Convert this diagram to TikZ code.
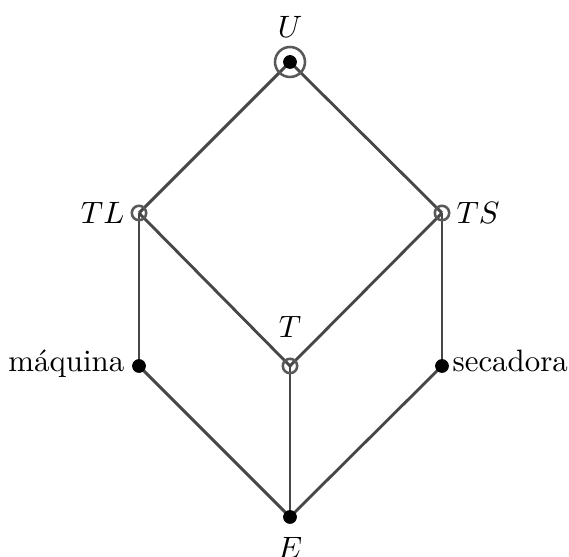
\documentclass[tikz,border=0pt]{standalone}
\begin{document}
\begin{tikzpicture}[x=0.3333pt,y=-0.3333pt,
  edge/.style={draw=black!72,line width=0.95pt},
  opendot/.style={draw=black!65,line width=0.85pt,circle,inner sep=0pt,minimum size=4.8pt},
  fulldot/.style={fill=black,circle,inner sep=0pt,minimum size=4.6pt},
  bigring/.style={draw=black!65,line width=0.85pt,circle,inner sep=0pt,minimum size=10pt},
  lbl/.style={inner sep=0pt,scale=1.03}]
\useasboundingbox (0,0) rectangle (569,557);
\coordinate (u) at (290,62);
\coordinate (tl) at (139,213);
\coordinate (ts) at (442,213);
\coordinate (t) at (290,366);
\coordinate (maq) at (139,366);
\coordinate (sec) at (442,366);
\coordinate (e) at (290,517);
\draw[edge] (u) -- (tl);
\draw[edge] (u) -- (ts);
\draw[edge] (tl) -- (t);
\draw[edge] (ts) -- (t);
\draw[edge] (tl) -- (maq);
\draw[edge] (ts) -- (sec);
\draw[edge] (maq) -- (e);
\draw[edge] (sec) -- (e);
\draw[edge] (t) -- (e);
\node[bigring] (ur) at (u) {};
\node[fulldot] (ud) at (u) {};
\node[opendot] (tlm) at (tl) {};
\node[opendot] (tsm) at (ts) {};
\node[opendot] (tm) at (t) {};
\node[fulldot] (maqm) at (maq) {};
\node[fulldot] (secm) at (sec) {};
\node[fulldot] (em) at (e) {};
\node[lbl] (ul) at (290,27) {$U$};
\node[lbl,anchor=east] (tll) at (125,213) {$TL$};
\node[lbl,anchor=west] (tsl) at (456,213) {$TS$};
\node[lbl] (tlab) at (290,327) {$T$};
\node[lbl,anchor=base east] (maql) at (125,372) {máquina};
\node[lbl,anchor=base west] (secl) at (452,372) {secadora};
\node[lbl] (el) at (290,548) {$E$};
\end{tikzpicture}
\end{document}
